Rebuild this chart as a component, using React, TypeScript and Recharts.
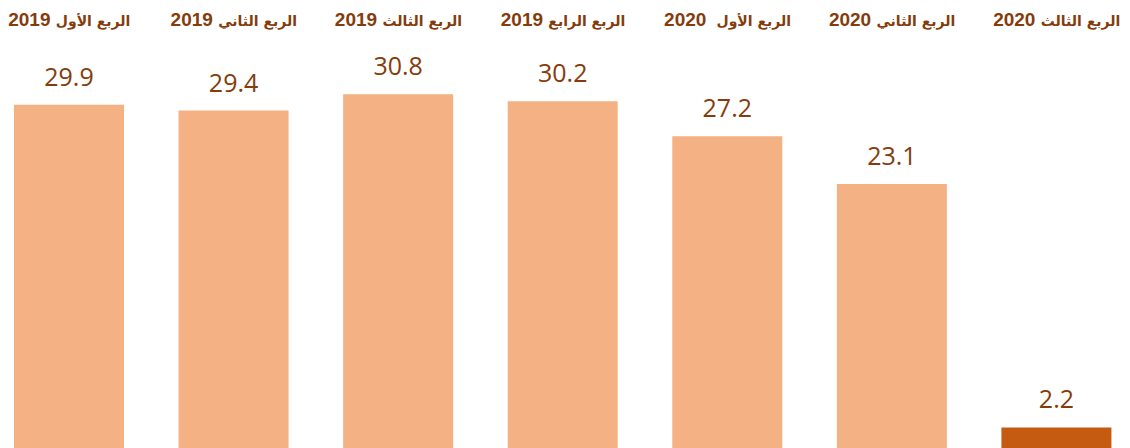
import React from 'react';
import { BarChart, Bar, XAxis, YAxis, Cell, LabelList } from 'recharts';

const quarters = [
  'الربع الأول 2019',
  'الربع الثاني 2019',
  'الربع الثالث 2019',
  'الربع الرابع 2019',
  'الربع الأول  2020',
  'الربع الثاني 2020',
  'الربع الثالث 2020',
];
const values = [29.9, 29.4, 30.8, 30.2, 27.2, 23.1, 2.2];
const highlightIndex = 6;

const data = quarters.map((q, i) => ({ quarter: q, value: values[i] }));

const brown = '#843C0C';
const lightOrange = '#F4B183';
const darkOrange = '#C55A11';

// arabic words and the year get different fonts so the widths come out close
function QuarterTick(props: any) {
  const { x, payload } = props;
  const label: string = payload.value;
  const cut = label.lastIndexOf(' ');
  const words = label.slice(0, cut);
  const year = label.slice(cut + 1);
  return (
    <text
      x={x}
      y={26}
      textAnchor="middle"
      direction="rtl"
      fill={brown}
      fontWeight="bold"
      style={{ whiteSpace: 'pre' }}
    >
      <tspan fontFamily="'DejaVu Sans', sans-serif" fontSize={14}>
        {words}
      </tspan>
      <tspan fontFamily="'Liberation Sans', Arial, sans-serif" fontSize={19}>
        {' ' + year}
      </tspan>
    </text>
  );
}

export default function App() {
  return (
    <div
      style={{
        position: 'absolute',
        left: 0,
        top: 0,
        width: 1130,
        height: 448,
        overflow: 'hidden',
        background: '#fff',
      }}
    >
      <div style={{ position: 'absolute', left: -13, top: 0 }}>
        <BarChart
          width={1152}
          height={460}
          data={data}
          margin={{ top: 0, right: 0, bottom: 7, left: 0 }}
          barSize={110}
        >
          <XAxis
            dataKey="quarter"
            orientation="top"
            height={57}
            axisLine={false}
            tickLine={false}
            interval={0}
            tick={<QuarterTick />}
          />
          <YAxis hide domain={[0, 34]} />
          <Bar dataKey="value" isAnimationActive={false}>
            {data.map((_, i) => (
              <Cell key={`cell-${i}`} fill={i === highlightIndex ? darkOrange : lightOrange} />
            ))}
            <LabelList
              dataKey="value"
              position="top"
              offset={19}
              fill={brown}
              fontFamily="'Open Sans', sans-serif"
              fontSize={25}
              formatter={(v: any) => Number(v).toFixed(1)}
            />
          </Bar>
        </BarChart>
      </div>
    </div>
  );
}
